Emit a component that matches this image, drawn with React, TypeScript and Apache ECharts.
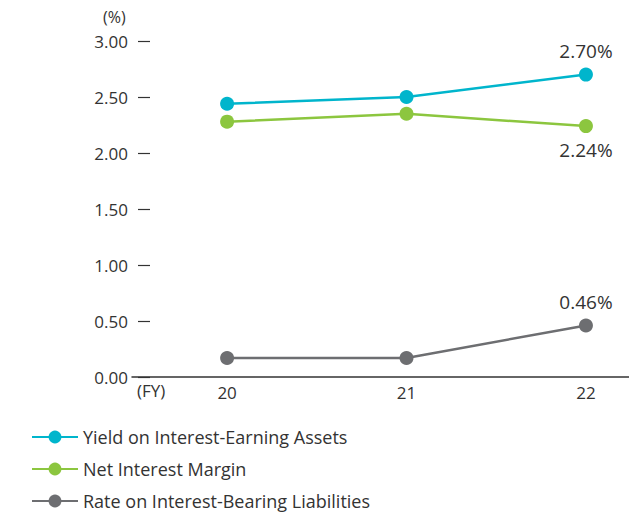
import React, { useEffect, useRef } from "react";
import * as echarts from "echarts";

const years = [20, 21, 22];
const yieldAssets = [2.44, 2.5, 2.7];
const netMargin = [2.28, 2.35, 2.24];
const rateLiab = [0.17, 0.17, 0.46];
const seriesNames = [
  "Yield on Interest-Earning Assets",
  "Net Interest Margin",
  "Rate on Interest-Bearing Liabilities",
];

const FONT = "'Open Sans', Lato, sans-serif";
const TXT = "#333333";

export default function App() {
  const ref = useRef<HTMLDivElement>(null);
  useEffect(() => {
    const chart = echarts.init(ref.current!, null, { renderer: "svg" });
    const mk = (name: string, vals: number[], color: string, pos: string) => ({
      name,
      type: "line",
      data: vals.map((v, i) => [years[i], v]),
      symbol: "circle",
      symbolSize: 14,
      lineStyle: { color, width: 2.5 },
      itemStyle: { color },
      label: {
        show: true,
        position: pos,
        distance: 7,
        fontSize: 19,
        fontFamily: FONT,
        color: TXT,
        formatter: (p: any) =>
          p.dataIndex === vals.length - 1 ? p.value[1].toFixed(2) + "%" : "",
      },
    });
    const legends = seriesNames.map((n, i) => ({
      orient: "horizontal",
      left: 31,
      top: 428 + i * 32,
      padding: 0,
      itemWidth: 46,
      itemHeight: 16,
      textStyle: { fontSize: 18, lineHeight: 18, color: TXT, fontFamily: FONT },
      data: [n],
    }));
    chart.setOption({
      animation: false,
      textStyle: { fontFamily: FONT },
      grid: { left: 132, right: 0, top: 41, bottom: 135, containLabel: false },
      xAxis: {
        type: "value",
        min: 19.47,
        max: 22.24,
        splitLine: { show: false },
        axisLine: { show: true, lineStyle: { color: "#333", width: 1.5 } },
        axisTick: { show: false },
        axisLabel: {
          customValues: years,
          fontSize: 17,
          color: TXT,
          fontFamily: FONT,
          margin: 7,
          formatter: (v: number) => String(v),
        },
      },
      yAxis: {
        type: "value",
        min: 0,
        max: 3,
        interval: 0.5,
        offset: -6,
        splitLine: { show: false },
        axisLine: { show: false },
        axisTick: {
          show: true,
          inside: true,
          length: 12,
          lineStyle: { color: "#333", width: 1.2 },
        },
        axisLabel: {
          margin: 10,
          fontSize: 17,
          color: TXT,
          fontFamily: FONT,
          formatter: (v: number) => v.toFixed(2),
        },
      },
      legend: legends,
      graphic: [
        {
          type: "text",
          left: 103,
          top: 9,
          style: { text: "(%)", fontSize: 16, fill: TXT, fontFamily: FONT },
        },
        {
          type: "text",
          left: 137,
          top: 382,
          style: { text: "(FY)", fontSize: 17, fill: TXT, fontFamily: FONT },
        },
      ],
      series: [
        mk(seriesNames[0], yieldAssets, "#00b5cc", "top"),
        mk(seriesNames[1], netMargin, "#8cc63f", "bottom"),
        mk(seriesNames[2], rateLiab, "#6d6e71", "top"),
      ],
    });
    return () => chart.dispose();
  }, []);
  return (
    <div
      ref={ref}
      style={{ position: "absolute", left: 0, top: 0, width: 629, height: 512 }}
    />
  );
}
